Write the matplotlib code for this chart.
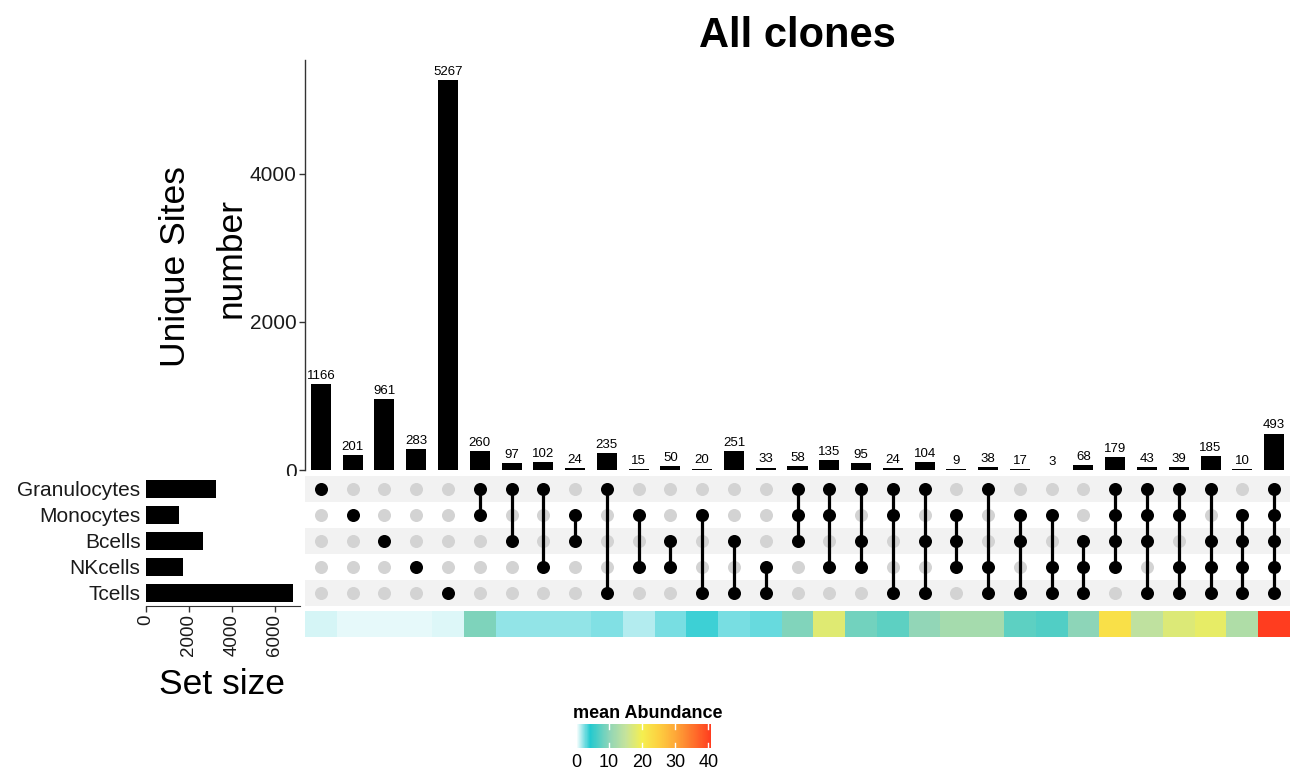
import numpy as np
import matplotlib
matplotlib.use("Agg")
import matplotlib.pyplot as plt
from matplotlib.colors import LinearSegmentedColormap, Normalize
from matplotlib.cm import ScalarMappable

plt.rcParams['font.family'] = ['Liberation Sans', 'DejaVu Sans']

# ---------------- data ----------------
set_names = ["Granulocytes", "Monocytes", "Bcells", "NKcells", "Tcells"]
intersections = [
    ["Granulocytes"], ["Monocytes"], ["Bcells"], ["NKcells"], ["Tcells"],
    ["Granulocytes", "Monocytes"], ["Granulocytes", "Bcells"], ["Granulocytes", "NKcells"],
    ["Monocytes", "Bcells"], ["Granulocytes", "Tcells"], ["Monocytes", "NKcells"],
    ["Bcells", "NKcells"], ["Monocytes", "Tcells"], ["Bcells", "Tcells"], ["NKcells", "Tcells"],
    ["Granulocytes", "Monocytes", "Bcells"], ["Granulocytes", "Monocytes", "NKcells"],
    ["Granulocytes", "Bcells", "NKcells"], ["Granulocytes", "Monocytes", "Tcells"],
    ["Granulocytes", "Bcells", "Tcells"], ["Monocytes", "Bcells", "NKcells"],
    ["Granulocytes", "NKcells", "Tcells"], ["Monocytes", "Bcells", "Tcells"],
    ["Monocytes", "NKcells", "Tcells"], ["Bcells", "NKcells", "Tcells"],
    ["Granulocytes", "Monocytes", "Bcells", "NKcells"], ["Granulocytes", "Monocytes", "Bcells", "Tcells"],
    ["Granulocytes", "Monocytes", "NKcells", "Tcells"], ["Granulocytes", "Bcells", "NKcells", "Tcells"],
    ["Monocytes", "Bcells", "NKcells", "Tcells"],
    ["Granulocytes", "Monocytes", "Bcells", "NKcells", "Tcells"],
]
counts = [1166, 201, 961, 283, 5267, 260, 97, 102, 24, 235, 15, 50, 20, 251, 33,
          58, 135, 95, 24, 104, 9, 38, 17, 3, 68, 179, 43, 39, 185, 10, 493]
mean_abundance = [0.8, 0.6, 0.6, 0.6, 0.7, 9.2, 2.2, 2.2, 2.1, 2.5, 1.5, 2.7, 3.8, 2.6, 3.0,
                  9.3, 17.8, 8.6, 7.4, 10.3, 12.0, 12.0, 7.4, 6.8, 10.0,
                  22.4, 14.5, 17.5, 18.5, 13.0, 40.8]
legend_ticks = [0, 10, 20, 30, 40]
top_ticks = [0, 2000, 4000]
size_ticks = [0, 2000, 4000, 6000]

# set sizes derived from intersections
set_sizes = [sum(c for inter, c in zip(intersections, counts) if s in inter) for s in set_names]

# ---------------- layout ----------------
W, H = 1291, 769
fig = plt.figure(figsize=(W / 100, H / 100), dpi=100)


def box(x0, y0, x1, y1):
    return [x0 / W, 1 - y1 / H, (x1 - x0) / W, (y1 - y0) / H]


n = len(counts)
xs = np.arange(n)
nrows = len(set_names)

cmap = LinearSegmentedColormap.from_list("abund", [
    (0.0, "#ffffff"),
    (4.2 / 40.8, "#22c9cf"),
    (10 / 40.8, "#8fd5b8"),
    (15 / 40.8, "#c5e39c"),
    (20 / 40.8, "#f5ef50"),
    (25 / 40.8, "#fdd040"),
    (30 / 40.8, "#fea838"),
    (1.0, "#ff3d1f"),
])
norm = Normalize(vmin=0, vmax=40.8)

# ---- top bar chart ----
axb = fig.add_axes(box(305, 60, 1290, 470))
axb.bar(xs, counts, width=0.63, color="black")
for x, c in zip(xs, counts):
    axb.annotate(str(c), (x, c), xytext=(0, 1.5), textcoords="offset points",
                 ha="center", va="bottom", fontsize=9.5)
axb.set_xlim(-0.5, n - 0.5)
axb.set_ylim(0, 5540)
axb.set_yticks(top_ticks)
axb.set_yticklabels([str(t) for t in top_ticks], fontsize=15, color="#1a1a1a")
axb.tick_params(axis="y", length=4, width=1, color="#333333", pad=2)
axb.set_xticks([])
for s in ["top", "right", "bottom"]:
    axb.spines[s].set_visible(False)
axb.spines["left"].set_color("#333333")
axb.spines["left"].set_linewidth(1)

fig.text(797 / W, 1 - 36 / H, "All clones", ha="center", va="center",
         fontsize=30, fontweight="bold")
fig.text(176 / W, 1 - 267 / H, "Unique Sites", rotation=90, ha="center", va="center",
         fontsize=25.5)
fig.text(231 / W, 1 - 258 / H, "number", rotation=90, ha="center", va="center",
         fontsize=25.5)

# ---- matrix ----
axm = fig.add_axes(box(305, 476, 1290, 606))
axm.set_xlim(-0.5, n - 0.5)
axm.set_ylim(nrows - 0.5, -0.5)
for i in range(nrows):
    if i % 2 == 0:
        axm.axhspan(i - 0.5, i + 0.5, color="#f2f2f2", lw=0, zorder=0)
for j, inter in enumerate(intersections):
    rows = [set_names.index(s) for s in inter]
    for i in range(nrows):
        if i in rows:
            axm.scatter([j], [i], s=88, color="black", zorder=3, linewidths=0)
        else:
            axm.scatter([j], [i], s=88, color="#d3d3d3", zorder=1, linewidths=0)
    if len(rows) > 1:
        axm.plot([j, j], [min(rows), max(rows)], color="black", lw=2.3, zorder=2,
                 solid_capstyle="butt")
axm.axis("off")

# ---- heatmap strip ----
axh = fig.add_axes(box(305, 611, 1290, 637))
axh.pcolormesh(np.arange(n + 1) - 0.5, [0, 1], np.array([mean_abundance]),
               cmap=cmap, norm=norm, shading="flat")
axh.set_xlim(-0.5, n - 0.5)
axh.axis("off")

# ---- set size bars ----
axs = fig.add_axes(box(146, 476, 300, 606))
axs.barh(np.arange(nrows), set_sizes, height=0.7, color="black")
axs.set_ylim(nrows - 0.5, -0.5)
axs.set_xlim(0, 7163)
axs.set_yticks(np.arange(nrows))
axs.set_yticklabels(set_names, fontsize=15, color="#1a1a1a")
axs.tick_params(axis="y", length=0, pad=4)
axs.set_xticks(size_ticks)
axs.set_xticklabels([str(t) for t in size_ticks], rotation=90, fontsize=13.5, color="#1a1a1a")
axs.tick_params(axis="x", length=4, width=1, color="#333333", pad=2)
for s in ["top", "right", "left"]:
    axs.spines[s].set_visible(False)
axs.spines["bottom"].set_color("#333333")
fig.text(222 / W, 1 - 685 / H, "Set size", ha="center", va="center", fontsize=25.5)

# ---- legend ----
fig.text(648 / W, 1 - 714 / H, "mean Abundance", ha="center", va="center",
         fontsize=13, fontweight="bold")
cax = fig.add_axes(box(576, 724, 711, 748))
cb = fig.colorbar(ScalarMappable(norm=norm, cmap=cmap), cax=cax, orientation="horizontal")
cb.outline.set_visible(False)
cb.set_ticks(legend_ticks)
cb.ax.tick_params(length=0, labelsize=13, pad=4)
for t in legend_ticks[1:]:
    cax.plot([t, t], [0, 0.2], color="white", lw=1, transform=cax.get_xaxis_transform())
    cax.plot([t, t], [0.8, 1.0], color="white", lw=1, transform=cax.get_xaxis_transform())

fig.savefig("out.png", dpi=100)
